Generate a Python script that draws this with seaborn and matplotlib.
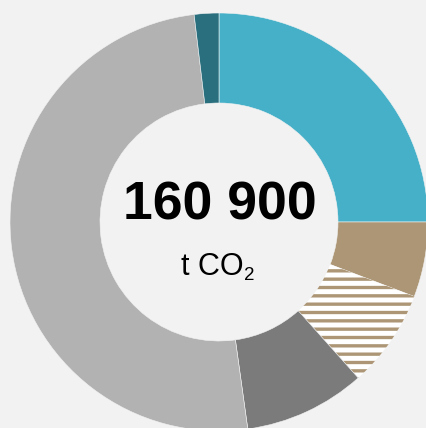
import matplotlib
matplotlib.use("Agg")
import matplotlib.pyplot as plt
import seaborn as sns

sns.set_theme(style="white")
plt.rcParams['font.family'] = ['Liberation Sans', 'DejaVu Sans']
plt.rcParams['hatch.linewidth'] = 2.4

# Data (share of total, percent), clockwise from 12 o'clock
categories = ["Segment A", "Segment B", "Segment B (hatched)", "Segment C", "Segment D", "Segment E"]
values = [25.0, 5.8, 7.6, 9.4, 50.3, 1.9]
colors = ["#45b0c8", "#ac9675", "#ffffff", "#7b7b7b", "#b2b2b2", "#2a6f7e"]
hatched = [False, False, True, False, False, False]
total_label = "160 900"
unit_main = "t CO"
unit_sub = "2"

BG = "#f2f2f2"
W, H = 427, 428
CX, CY, RO, RI = 219, 222, 209, 119

fig = plt.figure(figsize=(W / 100, H / 100), dpi=100, facecolor=BG)
ax = fig.add_axes([0, 0, 1, 1])
ax.set_facecolor(BG)

wedges, _ = ax.pie(values, colors=colors, startangle=90, counterclock=False,
                   radius=1.0,
                   wedgeprops=dict(width=(RO - RI) / RO, linewidth=0.4, edgecolor=BG))
for w, h in zip(wedges, hatched):
    if h:
        w.set_facecolor("#ffffff")
        w.set_edgecolor("#ac9675")
        w.set_linewidth(0)
        w.set_hatch("--")

ax.set_aspect("auto")
ax.set_xlim(-CX / RO, (W - CX) / RO)
ax.set_ylim(-(H - CY) / RO, CY / RO)
ax.axis("off")

def px(x):
    return (x - CX) / RO

def py(y):
    return (CY - y) / RO

ax.text(px(220), py(220), total_label, ha="center", va="baseline",
        fontsize=38.5, fontweight="bold", color="#000000")
ax.text(px(244), py(275), unit_main, ha="right", va="baseline",
        fontsize=22, color="#000000")
ax.text(px(244.5), py(280.5), unit_sub, ha="left", va="baseline",
        fontsize=13.5, color="#000000")

fig.savefig("out.png", dpi=100, facecolor=BG)
